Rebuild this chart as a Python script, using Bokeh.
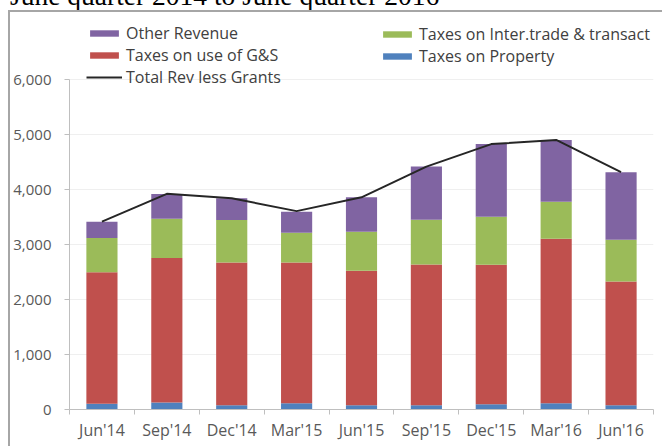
from bokeh.plotting import figure
from bokeh.layouts import column
from bokeh.models import (ColumnDataSource, FixedTicker, NumeralTickFormatter,
                          Legend, LegendItem, Div)
from bokeh.embed import file_html
from bokeh.resources import INLINE

title_text = "June quarter 2014 to June quarter 2016"
categories = ["Jun'14", "Sep'14", "Dec'14", "Mar'15", "Jun'15", "Sep'15", "Dec'15", "Mar'16", "Jun'16"]
taxes_property = [104, 128, 78, 115, 78, 78, 97, 116, 78]
taxes_gs = [2396, 2627, 2599, 2562, 2446, 2562, 2537, 2992, 2252]
taxes_trade = [620, 718, 772, 541, 712, 815, 876, 675, 760]
other_revenue = [298, 450, 396, 383, 627, 967, 1320, 1120, 1229]
total_rev_less_grants = [3420, 3925, 3845, 3610, 3862, 4420, 4830, 4905, 4320]
y_ticks = [0, 1000, 2000, 3000, 4000, 5000, 6000]

FONT = "Open Sans"
xs = list(range(len(categories)))
source = ColumnDataSource(dict(x=xs, prop=taxes_property, gs=taxes_gs,
                               trade=taxes_trade, other=other_revenue,
                               total=total_rev_less_grants))

# frame extends above the 6,000 line to hold the legend (60 px above it)
AXIS_PX = 328          # pixels from 0 to 6,000
EXTRA_PX = 60          # legend room above 6,000
y_top = y_ticks[-1] * (AXIS_PX + EXTRA_PX) / AXIS_PX

p = figure(frame_width=582, frame_height=AXIS_PX + EXTRA_PX, min_border_left=57,
           min_border_top=7, min_border_right=11, min_border_bottom=39,
           x_range=(-0.5, len(categories) - 0.5), y_range=(0, y_top),
           output_backend="svg", toolbar_location=None)
p.styles = {"border-left": "2px solid #a6a6a6", "border-top": "2px solid #a6a6a6"}
p.margin = (0, 0, 0, 8)
p.outline_line_color = None

colors = ["#4F81BD", "#C0504D", "#9BBB59", "#8064A2"]
bars = p.vbar_stack(["prop", "gs", "trade", "other"], x="x", width=0.48,
                    color=colors, line_color=None, source=source)
line = p.line("x", "total", source=source, line_color="#262626", line_width=2)

# axes
p.yaxis.ticker = FixedTicker(ticks=y_ticks)
p.yaxis.bounds = (y_ticks[0], y_ticks[-1])
p.yaxis.formatter = NumeralTickFormatter(format="0,0")
p.yaxis.axis_line_color = "#bfbfbf"
p.yaxis.major_tick_line_color = "#bfbfbf"
p.yaxis.major_tick_out = 5
p.yaxis.major_tick_in = 0
p.yaxis.minor_tick_line_color = None
p.yaxis.major_label_standoff = 13
p.yaxis.major_label_text_font_size = "15px"

p.xaxis.ticker = FixedTicker(ticks=xs, minor_ticks=[i - 0.5 for i in range(len(categories) + 1)])
p.xaxis.major_label_overrides = {i: c for i, c in enumerate(categories)}
p.xaxis.axis_line_color = "#bfbfbf"
p.xaxis.major_tick_line_color = None
p.xaxis.minor_tick_line_color = "#bfbfbf"
p.xaxis.minor_tick_out = 5
p.xaxis.minor_tick_in = 0
p.xaxis.major_label_standoff = 3
p.xaxis.major_label_text_font_size = "16px"

for ax in (p.xaxis, p.yaxis):
    ax.major_label_text_font = FONT
    ax.major_label_text_color = "#595959"

p.xgrid.grid_line_color = None
p.ygrid.grid_line_color = "#efefef"
p.ygrid.ticker = FixedTicker(ticks=y_ticks)


def make_legend(items, loc):
    lg = Legend(items=items, location=loc, orientation="vertical",
                glyph_width=36, glyph_height=8, label_standoff=4,
                label_text_font=FONT, label_text_font_size="16px",
                label_text_color="#404040", spacing=-1, padding=0, margin=0,
                border_line_color=None, background_fill_alpha=0,
                label_height=10)
    p.add_layout(lg, "center")
    return lg


make_legend([LegendItem(label="Other Revenue", renderers=[bars[3]]),
             LegendItem(label="Taxes on use of G&S", renderers=[bars[1]]),
             LegendItem(label="Total Rev less Grants", renderers=[line])],
            (17, 321))
make_legend([LegendItem(label="Taxes on Inter.trade & transact", renderers=[bars[2]]),
             LegendItem(label="Taxes on Property", renderers=[bars[0]])],
            (310, 342))

title = Div(text='<div style="font-family: \'Liberation Serif\'; font-size: 27.5px; '
                 'line-height: 26px; white-space: nowrap; position: relative; top: -17px; '
                 'margin-left: 10px; color: #000;">' + title_text + '</div>',
            width=654, height=10, styles={"overflow": "hidden"})
title.margin = (0, 0, 0, 0)

layout = column(title, p, spacing=0)
open("out.html", "w").write(file_html(layout, INLINE))
